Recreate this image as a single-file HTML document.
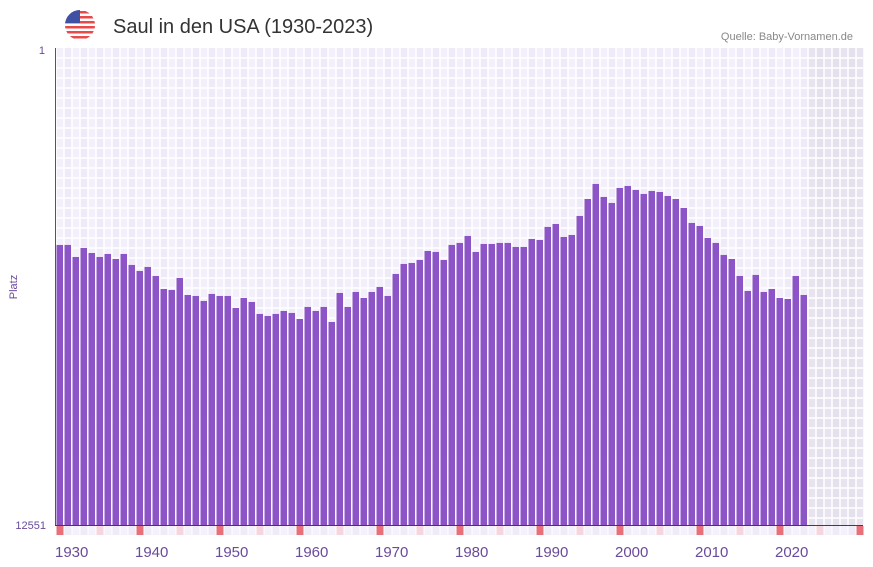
<!DOCTYPE html>
<html><head><meta charset="utf-8"><style>
html,body{margin:0;padding:0;background:#fff;}
svg{display:block;font-family:"Liberation Sans",sans-serif;}
</style></head><body>
<svg id="chart" width="873" height="567">
  <g>
    <clipPath id="fc"><circle cx="80" cy="25" r="15"/></clipPath>
    <g clip-path="url(#fc)">
      <rect x="65" y="10" width="30" height="30" fill="#fff"/>
      <rect x="65" y="11" width="30" height="2.5" fill="#e84a4a"/>
      <rect x="65" y="16" width="30" height="2.5" fill="#e84a4a"/>
      <rect x="65" y="21" width="30" height="2.5" fill="#e84a4a"/>
      <rect x="65" y="26" width="30" height="2.5" fill="#e84a4a"/>
      <rect x="65" y="31" width="30" height="2.5" fill="#e84a4a"/>
      <rect x="65" y="36" width="30" height="2.5" fill="#e84a4a"/>
      <rect x="65" y="10" width="15" height="13" fill="#3f51a3"/>
    </g>
  </g>
  <text x="113" y="33" font-size="20" fill="#333">Saul in den USA (1930-2023)</text>
  <text x="853" y="40" font-size="11" fill="#888" text-anchor="end">Quelle: Baby-Vornamen.de</text>
  <g id="bg"></g>
  <g id="bars"></g>
  <g id="markers"></g>
  <line x1="55.5" y1="48" x2="55.5" y2="525" stroke="#6a3fa0" stroke-width="1"/>
  <line x1="55" y1="525.5" x2="863" y2="525.5" stroke="#4a2f7a" stroke-width="1"/>
  <text x="45" y="54" font-size="11" fill="#6a4a9a" text-anchor="end">1</text>
  <text x="46" y="529" font-size="11" fill="#6a4a9a" text-anchor="end">12551</text>
  <text transform="translate(17,287) rotate(-90)" font-size="11" fill="#6a4a9a" text-anchor="middle">Platz</text>
  <g id="xticks"></g>
</svg>
<script>
const years = [];
for (let y = 1930; y <= 2023; y++) years.push(y);
const ranks = [5183,5183,5499,5262,5394,5499,5420,5551,5420,5709,5867,5762,5999,6341,6367,6051,6499,6525,6656,6472,6525,6525,6841,6578,6683,6998,7051,6998,6920,6972,7130,
6814,6920,6814,7209,6446,6814,6420,6578,6420,6288,6525,5946,5683,5657,5578,5341,5367,5578,5183,5130,4946,5367,5157,5157,5130,5130,5236,5236,5025,5052,4709,4631,
4973,4920,4420,3973,3578,3920,4078,3683,3631,3736,3841,3762,3789,3894,3973,4210,4604,4683,4999,5130,5446,5552,5999,6393,5972,6420,6341,6578,6604,5999,6499];
const tickLabels = ["1930","1940","1950","1960","1970","1980","1990","2000","2010","2020"];
const minRank = 1, maxRank = 12551, firstYear = 1930, lastSlotYear = 2030;
const NS = "http://www.w3.org/2000/svg";
const X0 = 56, SLOT = 8, Y0 = 48, Y1 = 525;
function xs(year){ return X0 + (year - firstYear) * SLOT; }
function ys(rank){ return Y0 + (rank - minRank) / (maxRank - minRank) * (Y1 - Y0); }
function mk(tag, attrs, parent){ const e = document.createElementNS(NS, tag); for (const k in attrs) e.setAttribute(k, attrs[k]); parent.appendChild(e); return e; }
const bg = document.getElementById('bg');
const lastData = years[years.length-1];
for (let y = firstYear; y <= lastSlotYear; y++) {
  const grey = y > lastData;
  const c = grey ? ((y%2)?'#e4e0ec':'#e8e4ef') : ((y%2)?'#efeaf8':'#f3f0fb');
  const r = mk('rect', {x: xs(y), y: Y0, width: SLOT, height: Y1-Y0, fill: c}, bg);
  
  
}
for (let yy = Y0 + 10; yy < Y1; yy += 10) {
  mk('line', {x1: X0, x2: 863, y1: yy, y2: yy, stroke: '#fff', 'stroke-width': 1.5}, bg);
}
for (let y = firstYear; y <= lastSlotYear + 1; y++) {
  mk('line', {x1: xs(y), x2: xs(y), y1: Y0, y2: Y1, stroke: '#fff', 'stroke-width': 1.5}, bg);
}
const barsG = document.getElementById('bars');
years.forEach((yr, i) => {
  const top = ys(ranks[i]);
  const b = mk('rect', {x: xs(yr) + 0.5, y: top, width: SLOT - 1.5, height: Y1 - top, fill: '#8c54c6'}, barsG);
  
  
});
const mG = document.getElementById('markers');
for (let y = firstYear; y <= lastSlotYear; y++) {
  let c = (y%2)?'#efeaf8':'#f4f1fb';
  if (y % 10 === 0) c = '#e8707a'; else if (y % 5 === 0) c = '#f5d6df';
  const m = mk('rect', {x: xs(y) + 0.5, y: 526, width: SLOT - 1, height: 9, fill: c}, mG);
  
  
}
const xt = document.getElementById('xticks');
tickLabels.forEach(t => {
  const e = mk('text', {x: xs(+t) - 1, y: 557, 'font-size': 15, fill: '#6a4a9a'}, xt);
  e.textContent = t;
  
  
});
</script>
</body></html>
